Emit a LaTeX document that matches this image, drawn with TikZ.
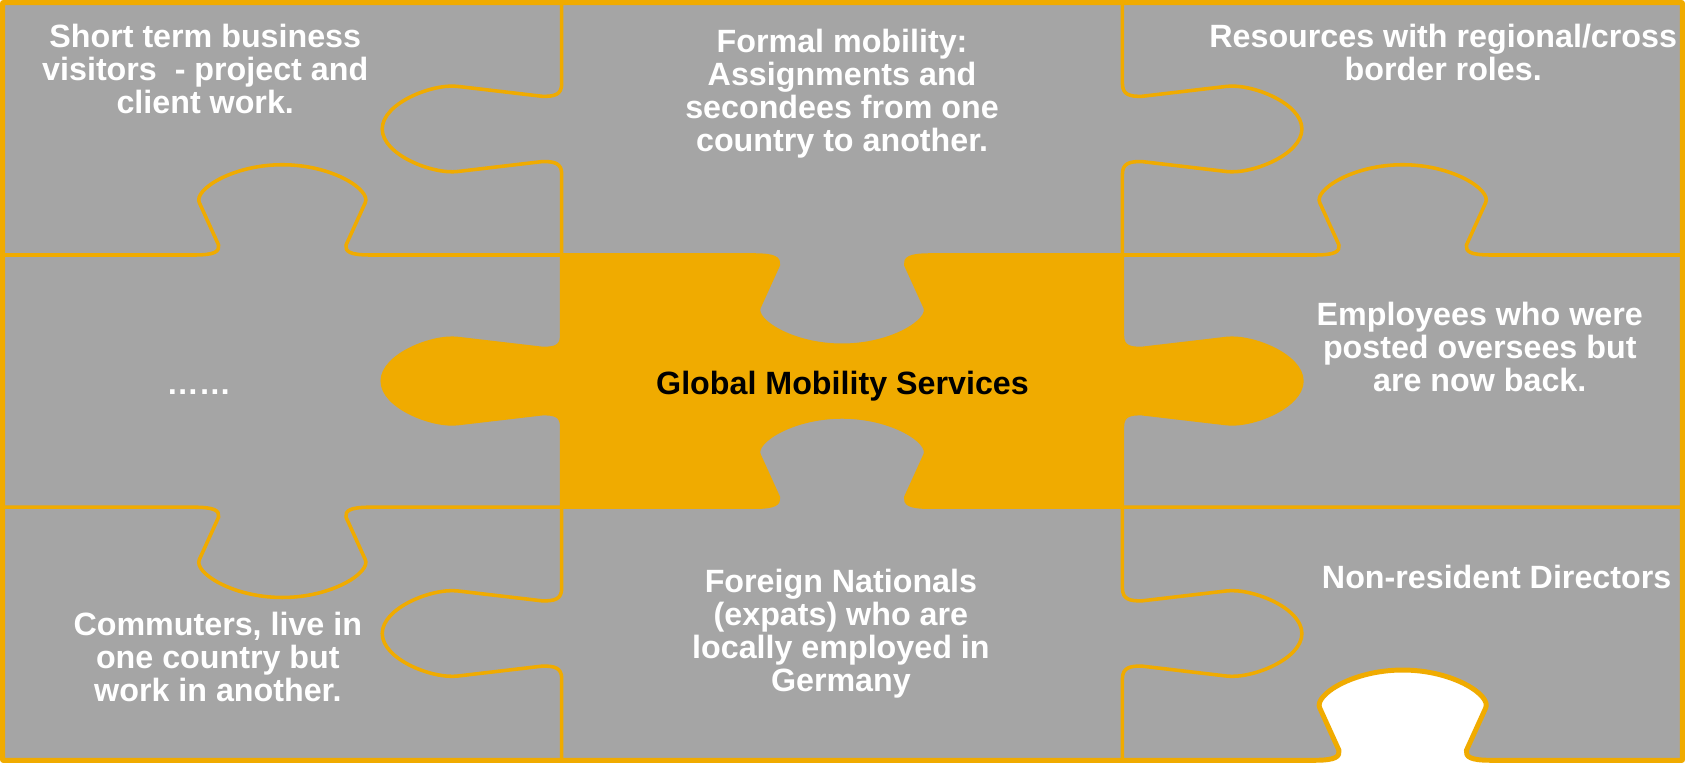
\documentclass[tikz,border=0pt]{standalone}
\usepackage{fontspec}
\setmainfont{Liberation Sans}
\definecolor{pgray}{HTML}{A5A5A5}
\definecolor{porange}{HTML}{F0AB00}
\begin{document}
\begin{tikzpicture}[x=0.5pt,y=-0.5pt,
  edge/.style={draw=porange,line width=1.65pt,line join=round},
  lbl/.style={text=white,font=\fontsize{15}{15.35}\selectfont\bfseries,align=center,inner sep=0pt},
  xtab/.style n args={4}{insert path={
    -- ({#1-1.05*(#3)},{#2})
    .. controls ({#1-0.8*(#3)},{#2}) and ({#1-0.75*(#3)},{#2+0.04*(#4)}) .. ({#1-0.76*(#3)},{#2+0.11*(#4)})
    -- ({#1-0.99*(#3)},{#2+0.58*(#4)})
    .. controls ({#1-1.06*(#3)},{#2+0.72*(#4)}) and ({#1-0.6*(#3)},{#2+(#4)}) .. ({#1},{#2+(#4)})
    .. controls ({#1+0.6*(#3)},{#2+(#4)}) and ({#1+1.06*(#3)},{#2+0.72*(#4)}) .. ({#1+0.99*(#3)},{#2+0.58*(#4)})
    -- ({#1+0.76*(#3)},{#2+0.11*(#4)})
    .. controls ({#1+0.75*(#3)},{#2+0.04*(#4)}) and ({#1+0.8*(#3)},{#2}) .. ({#1+1.05*(#3)},{#2})
  }},
  ytab/.style n args={4}{insert path={
    -- ({#1},{#2-1.05*(#3)})
    .. controls ({#1},{#2-0.8*(#3)}) and ({#1+0.04*(#4)},{#2-0.75*(#3)}) .. ({#1+0.11*(#4)},{#2-0.76*(#3)})
    -- ({#1+0.58*(#4)},{#2-0.99*(#3)})
    .. controls ({#1+0.72*(#4)},{#2-1.06*(#3)}) and ({#1+(#4)},{#2-0.6*(#3)}) .. ({#1+(#4)},{#2})
    .. controls ({#1+(#4)},{#2+0.6*(#3)}) and ({#1+0.72*(#4)},{#2+1.06*(#3)}) .. ({#1+0.58*(#4)},{#2+0.99*(#3)})
    -- ({#1+0.11*(#4)},{#2+0.76*(#3)})
    .. controls ({#1+0.04*(#4)},{#2+0.75*(#3)}) and ({#1},{#2+0.8*(#3)}) .. ({#1},{#2+1.05*(#3)})
  }}]
% background and bounding box
\fill[white] (0,0) rectangle (1568,710);
\useasboundingbox (0,0) rectangle (1568,710);
% gray board with the white notch at the bottom right
\fill[pgray] (2.5,2.5) -- (1565.5,2.5) -- (1565.5,707.5) [xtab={1305.3}{707.5}{-78}{-84}] -- (2.5,707.5) -- cycle;
% orange centre piece
\fill[porange] (522.7,237.3) [xtab={783.6}{237.3}{78}{84}] -- (1044.5,237.3)
  [ytab={1044.5}{354.6}{40}{167}] -- (1044.5,472)
  [xtab={783.6}{472}{-78}{-84}] -- (522.7,472)
  [ytab={522.7}{354.6}{-40}{-167}] -- cycle;
% inner edges
\draw[edge] (2.5,237.3) [xtab={262.7}{237.3}{78}{-84}] [xtab={783.6}{237.3}{78}{84}] [xtab={1305.3}{237.3}{78}{-84}] -- (1565.5,237.3);
\draw[edge] (2.5,472) [xtab={262.7}{472}{78}{84}] [xtab={783.6}{472}{78}{-84}] -- (1565.5,472);
\draw[edge] (522.7,2.5) [ytab={522.7}{120}{40}{-167}] [ytab={522.7}{354.6}{40}{-167}] [ytab={522.7}{589.5}{40}{-167}] -- (522.7,707.5);
\draw[edge] (1044.5,2.5) [ytab={1044.5}{120}{40}{167}] [ytab={1044.5}{354.6}{40}{167}] [ytab={1044.5}{589.5}{40}{167}] -- (1044.5,707.5);
% outer outline
\draw[porange,line width=2.3pt,line join=round] (2.5,2.5) -- (1565.5,2.5) -- (1565.5,707.5) [xtab={1305.3}{707.5}{-78}{-84}] -- (2.5,707.5) -- cycle;
% texts
\node[lbl,anchor=north] (tl) at (191,21.7) {Short term business\\visitors\ \ - project and\\client work.};
\node[lbl,anchor=north] (tm) at (783.6,26.4) {Formal mobility:\\Assignments and\\secondees from one\\country to another.};
\node[lbl,anchor=north] (tr) at (1343,21.7) {Resources with regional/cross\\border roles.};
\node[lbl,anchor=base] (ml) at (185,366.7) {……};
\node[lbl,anchor=base,text=black] (cc) at (784,366.7) {Global Mobility Services};
\node[lbl,anchor=north] (mr) at (1377,280.7) {Employees who were\\posted oversees but\\are now back.};
\node[lbl,anchor=north] (bl) at (202.7,569.2) {Commuters, live in\\one country but\\work in another.};
\node[lbl,anchor=north] (bm) at (782.5,528.9) {Foreign Nationals\\(expats) who are\\locally employed in\\Germany};
\node[lbl,anchor=base] (br) at (1392.7,547.5) {Non-resident Directors};
\end{tikzpicture}
\end{document}
